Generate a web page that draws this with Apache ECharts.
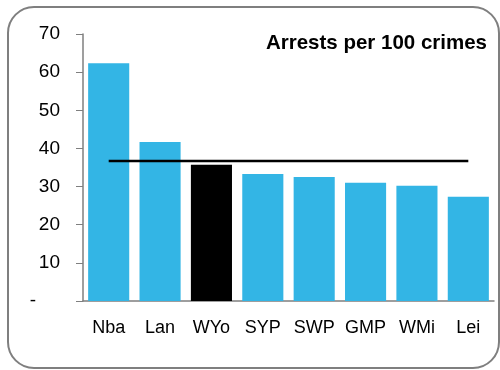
<!DOCTYPE html>
<html><head><meta charset="utf-8">
<script src="https://cdn.jsdelivr.net/npm/echarts@6/dist/echarts.min.js"></script>
<style>html,body{margin:0;padding:0;background:#fff}#c{width:500px;height:370px}</style>
</head><body><div id="c"></div>
<script>
const categories = ['Nba','Lan','WYo','SYP','SWP','GMP','WMi','Lei'];
const arrests = [62.3, 41.7, 35.7, 33.3, 32.5, 31.0, 30.2, 27.3];
const average = [36.7, 36.7, 36.7, 36.7, 36.7, 36.7, 36.7, 36.7];
const highlight = 'WYo';
const yTicks = [0, 10, 20, 30, 40, 50, 60, 70];

const chart = echarts.init(document.getElementById('c'), null, {renderer:'canvas'});
const font = 'Liberation Sans, Arial, sans-serif';
chart.setOption({
  animation:false,
  graphic:[{type:'rect', shape:{x:8,y:7,width:491,height:361,r:26}, style:{fill:'none',stroke:'#7f7f7f',lineWidth:2}, z:-1}],
  title:{text:'Arrests per 100 crimes', right:13, top:33, padding:0, textStyle:{fontFamily:font,fontSize:20.5,fontWeight:'bold',color:'#000'}},
  grid:{left:83, right:6, top:34, bottom:69},
  xAxis:{type:'category', data:categories,
    axisLine:{lineStyle:{color:'#7f7f7f',width:1.5}}, axisTick:{show:false},
    axisLabel:{interval:0, hideOverlap:false, fontFamily:font,fontSize:18,color:'#000',margin:18}},
  yAxis:{type:'value', min:yTicks[0], max:yTicks[yTicks.length-1], interval:10,
    splitLine:{show:false},
    axisLine:{show:true,lineStyle:{color:'#7f7f7f',width:1.5}},
    axisTick:{show:true,length:7,lineStyle:{color:'#7f7f7f'}},
    axisLabel:{fontFamily:font,fontSize:19,color:'#000',margin:23,
      formatter:v=> v===0 ? '{d|-}' : String(v),
      rich:{d:{fontFamily:font,fontSize:19,color:'#000',padding:[0,24,0,0]}}}},
  series:[
    {type:'bar', barCategoryGap:'20%',
     data:arrests.map((v,i)=>({value:v,itemStyle:{color:categories[i]===highlight?'#000':'#33B5E5'}}))},
    {type:'line', data:average, symbol:'none', lineStyle:{color:'#000',width:2.5}, z:5}
  ]
});
</script></body></html>
